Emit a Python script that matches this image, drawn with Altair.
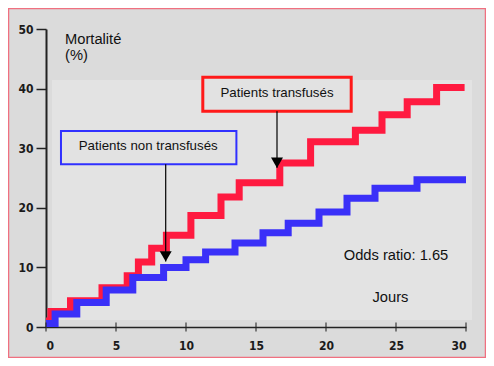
import altair as alt
import pandas as pd

# Step data (cumulative mortality %, by day)
red_days = [0, 0.35, 1.75, 4.0, 5.8, 6.6, 7.55, 8.6, 10.35, 12.5, 13.8, 16.7, 18.9, 22.1, 24.0, 25.8, 27.9, 29.9]
red_vals = [1.0, 2.6, 4.4, 6.6, 8.6, 10.9, 13.2, 15.4, 18.7, 21.8, 24.2, 27.5, 31.1, 33.0, 35.6, 37.8, 40.2, 40.2]
blue_days = [0, 0.65, 2.2, 4.3, 6.2, 8.4, 10.0, 11.4, 13.5, 15.5, 17.3, 19.5, 21.5, 23.5, 26.5, 30.0]
blue_vals = [0.6, 2.2, 4.1, 6.2, 8.3, 10.0, 11.3, 12.6, 14.1, 15.8, 17.4, 19.3, 21.6, 23.3, 24.7, 24.7]

x_ticks = [0, 5, 10, 15, 20, 25, 30]
y_ticks = [0, 10, 20, 30, 40, 50]

# Annotation boxes (data coords)
box_labels = ["Patients transfusés", "Patients non transfusés"]
box_x1 = [11.2, 1.07]
box_x2 = [21.8, 13.6]
box_y1 = [36.2, 27.3]
box_y2 = [41.9, 32.9]
box_tx = [16.5, 7.3]
box_ty = [38.6, 29.7]
box_col = ["#ff1a1a", "#3030ff"]
box_sw = [3, 2]

arrow_x = [16.5, 8.55]
arrow_top = [36.2, 27.3]
arrow_tip = [26.7, 11.0]

notes = ["Mortalité", "(%)", "Odds ratio: 1.65", "Jours"]
note_x = [1.36, 1.36, 25.0, 24.6]
note_y = [47.4, 44.8, 11.2, 4.2]

xs = alt.Scale(domain=[0, 30], nice=False, zero=False)
ys = alt.Scale(domain=[0, 50], nice=False, zero=False)

red_df = pd.DataFrame({"day": red_days, "val": red_vals})
blue_df = pd.DataFrame({"day": blue_days, "val": blue_vals})
box_df = pd.DataFrame({"label": box_labels, "x1": box_x1, "x2": box_x2, "y1": box_y1, "y2": box_y2,
                       "tx": box_tx, "ty": box_ty, "col": box_col, "sw": box_sw})
arrow_df = pd.DataFrame({"x": arrow_x, "top": arrow_top, "tip": arrow_tip})
note_df = pd.DataFrame({"t": notes, "x": note_x, "y": note_y})
xtick_df = pd.DataFrame({"x": x_ticks})

LBL_FONT = "DejaVu Sans Condensed, Liberation Sans Narrow, DejaVu Sans"

base_axis_x = alt.Axis(values=x_ticks, title=None, grid=False, labelFont=LBL_FONT,
                       labelFontWeight="bold", labelFontSize=12, labelColor="#1a1a1a",
                       domainColor="#222", domainWidth=1.5, ticks=False, labelPadding=13)
base_axis_y = alt.Axis(values=y_ticks, title=None, grid=False, labelFont=LBL_FONT,
                       labelFontWeight="bold", labelFontSize=12, labelColor="#1a1a1a",
                       domainColor="#222", domainWidth=2, tickColor="#222", tickWidth=1.5,
                       tickSize=10, labelPadding=3)

dummy = pd.DataFrame({"a": [0]})
inner = alt.Chart(dummy).mark_rect(color="#e3e3e3").encode(
    x=alt.value(6), x2=alt.value(426), y=alt.value(51), y2=alt.value(291))
frame = alt.Chart(dummy).mark_rect(fill=None, stroke="#f07080", strokeWidth=1.5, clip=False).encode(
    x=alt.value(-37.5), x2=alt.value(439.5), y=alt.value(-20.5), y2=alt.value(328.5))

red_line = alt.Chart(red_df).mark_line(color="#ff1a40", strokeWidth=7, interpolate="step-after",
                                       strokeJoin="miter", strokeCap="butt").encode(
    x=alt.X("day:Q", scale=xs, axis=base_axis_x),
    y=alt.Y("val:Q", scale=ys, axis=base_axis_y))
blue_line = alt.Chart(blue_df).mark_line(color="#3a30f8", strokeWidth=7, interpolate="step-after",
                                         strokeJoin="miter", strokeCap="butt").encode(
    x=alt.X("day:Q", scale=xs), y=alt.Y("val:Q", scale=ys))

xticks = alt.Chart(xtick_df).mark_tick(orient="vertical", size=9, thickness=1.5, color="#222",
                                       clip=False).encode(
    x=alt.X("x:Q", scale=xs), y=alt.value(298))

boxes = alt.Chart(box_df).mark_rect(fill="#e2e2e2").encode(
    x=alt.X("x1:Q", scale=xs), x2="x2", y=alt.Y("y1:Q", scale=ys), y2="y2",
    stroke=alt.Color("col:N", scale=None),
    strokeWidth=alt.StrokeWidth("sw:Q", scale=None))
box_text = alt.Chart(box_df).mark_text(font="Liberation Sans", fontSize=13.3, color="#111",
                                       align="center", baseline="alphabetic").encode(
    x=alt.X("tx:Q", scale=xs), y=alt.Y("ty:Q", scale=ys), text="label:N")

arrow_line = alt.Chart(arrow_df).mark_rule(color="#000", strokeWidth=1.2).encode(
    x=alt.X("x:Q", scale=xs), y=alt.Y("top:Q", scale=ys), y2="tip")
arrow_head = alt.Chart(arrow_df).transform_calculate(c="datum.tip + 0.85").mark_point(
    shape="triangle-down", filled=True, color="#000", size=144, opacity=1).encode(
    x=alt.X("x:Q", scale=xs), y=alt.Y("c:Q", scale=ys))

note_base = alt.Chart(note_df).encode(
    x=alt.X("x:Q", scale=xs), y=alt.Y("y:Q", scale=ys), text="t:N")
note_left = note_base.transform_filter("datum.x < 10").mark_text(
    font="Liberation Sans", fontSize=14.7, color="#111", baseline="alphabetic", align="left")
note_center = note_base.transform_filter("datum.x >= 10").mark_text(
    font="Liberation Sans", fontSize=14.7, color="#111", baseline="alphabetic", align="center")

chart = alt.layer(inner, frame, red_line, blue_line, xticks, boxes, box_text, arrow_line, arrow_head,
                  note_left, note_center).properties(
    width=420, height=298, background="#dbdbdb",
    padding={"left": 38, "top": 21, "right": 20, "bottom": 31},
    autosize=alt.AutoSizeParams(type="none")
).configure_view(stroke=None)

chart.save("out.html", embed_options={"renderer": "svg", "actions": False})
